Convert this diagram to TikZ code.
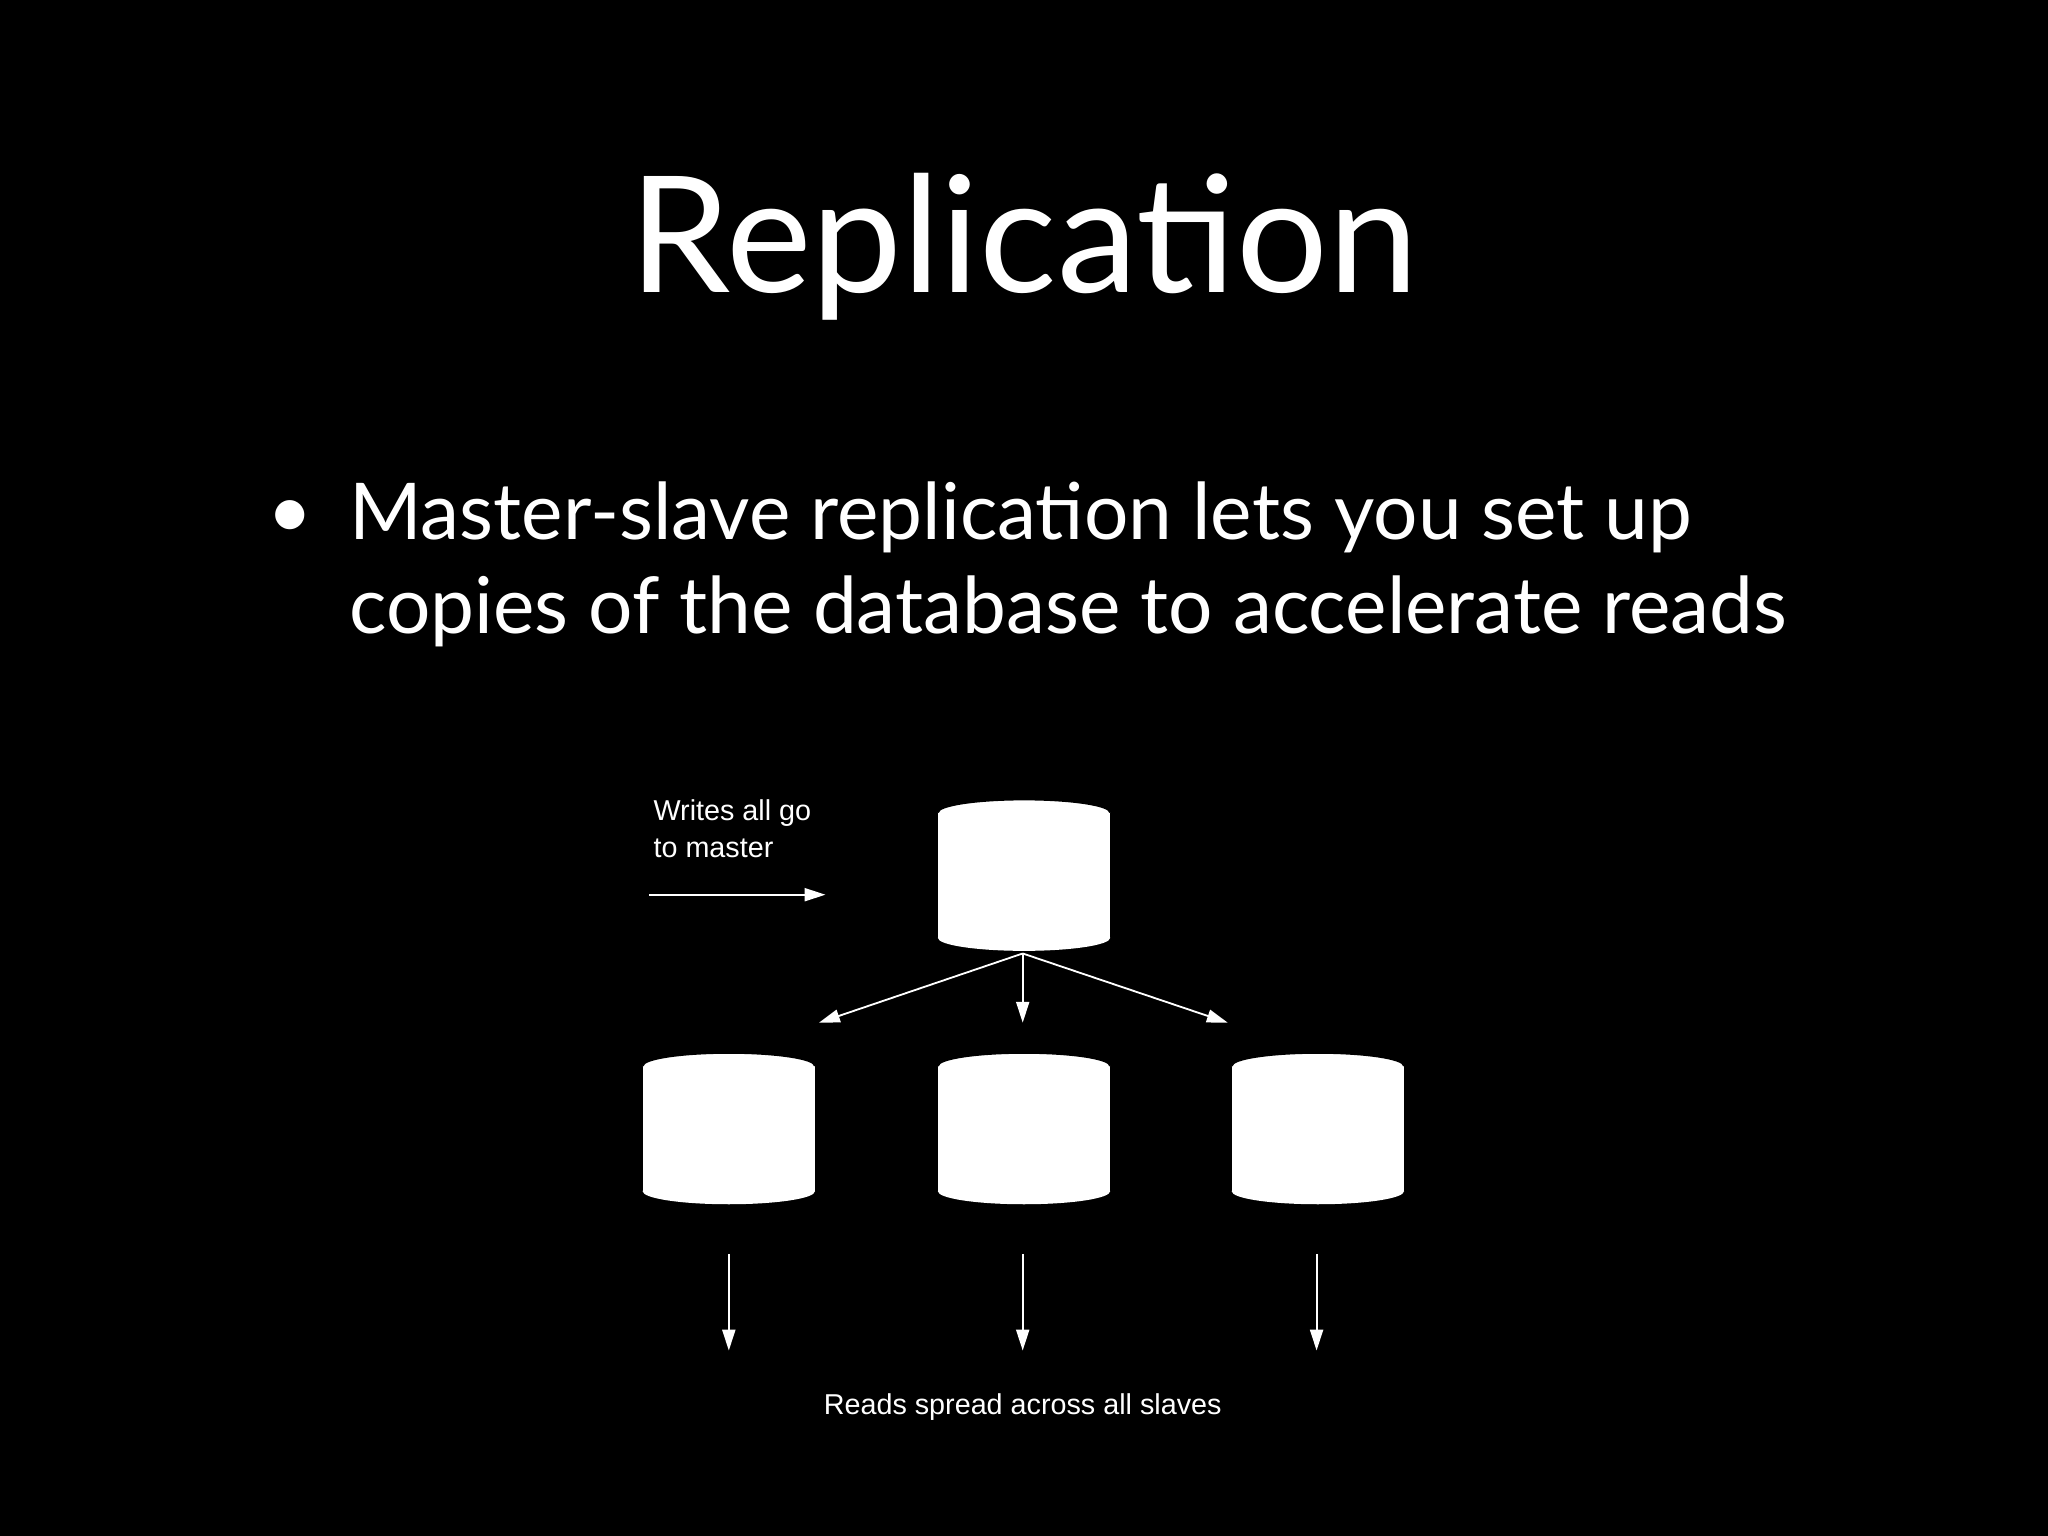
\documentclass[tikz,border=0pt]{standalone}
\usepackage{fontspec}
\setmainfont{Lato}
\newfontfamily\diag{Liberation Sans}
\usetikzlibrary{arrows.meta}
\begin{document}
\begin{tikzpicture}[x=0.5pt,y=-0.5pt,
  lbl/.style={text=white,font=\diag\fontsize{10.5}{13}\selectfont,inner sep=0},
  arr/.style={draw=white,line width=0.7pt,-{Triangle[width=5pt,length=8pt]}}]
\fill[black] (0,0) rectangle (1568,1176);
\useasboundingbox (0,0) rectangle (1568,1176);
\newcommand{\cyl}[3]{% name, cx, top y
  \fill[white] (#2-66,#3) rectangle (#2+66,#3+96);
  \fill[white] (#2,#3+96) ellipse [x radius=66, y radius=10];
  \fill[white] (#2,#3) ellipse [x radius=66, y radius=10];
  \draw[black,line width=0.8pt] (#2-66,#3) arc[start angle=180,end angle=360,x radius=66,y radius=10];
  \coordinate (#1t) at (#2,#3-10);
  \coordinate (#1b) at (#2,#3+106);
}
\node[text=white,font=\fontsize{62}{70}\selectfont,anchor=base] (title) at (784,224) {Replication};
\node[text=white,font=\fontsize{30}{36}\selectfont,anchor=base] (dot) at (222,412) {•};
\node[text=white,font=\fontsize{30}{36}\selectfont,anchor=base west,inner sep=0] (b1) at (267,413) {Master-slave replication lets you set up};
\node[text=white,font=\fontsize{30}{36}\selectfont,anchor=base west,inner sep=0] (b2) at (267,485) {copies of the database to accelerate reads};
\cyl{m}{784}{622}
\cyl{s1}{558}{816}
\cyl{s2}{784}{816}
\cyl{s3}{1009}{816}
\node[lbl] (mt) at (784,677) {Master};
\node[lbl] (s1l) at (558,871) {Slave};
\node[lbl] (s2l) at (784,871) {Slave};
\node[lbl] (s3l) at (1009,871) {Slave};
\node[lbl,anchor=north west,align=left,font=\diag\fontsize{11}{14}\selectfont] (w) at (500,612) {Writes all go\\to master};
\coordinate (wa) at (497,685); \coordinate (wb) at (632,685);
\draw[arr] (wa) -- (wb);
\coordinate (c) at (783,730);
\coordinate (e1) at (627,783); \coordinate (e2) at (783,783); \coordinate (e3) at (940,783);
\draw[arr] (c) -- (e1); \draw[arr] (c) -- (e2); \draw[arr] (c) -- (e3);
\foreach \i/\x in {1/558,2/783,3/1008}{
  \coordinate (d\i a) at (\x,960); \coordinate (d\i b) at (\x,1034);
  \draw[arr] (d\i a) -- (d\i b);}
\node[lbl,font=\diag\fontsize{11}{14}\selectfont] (r) at (783,1077) {Reads spread across all slaves};
\end{tikzpicture}
\end{document}
